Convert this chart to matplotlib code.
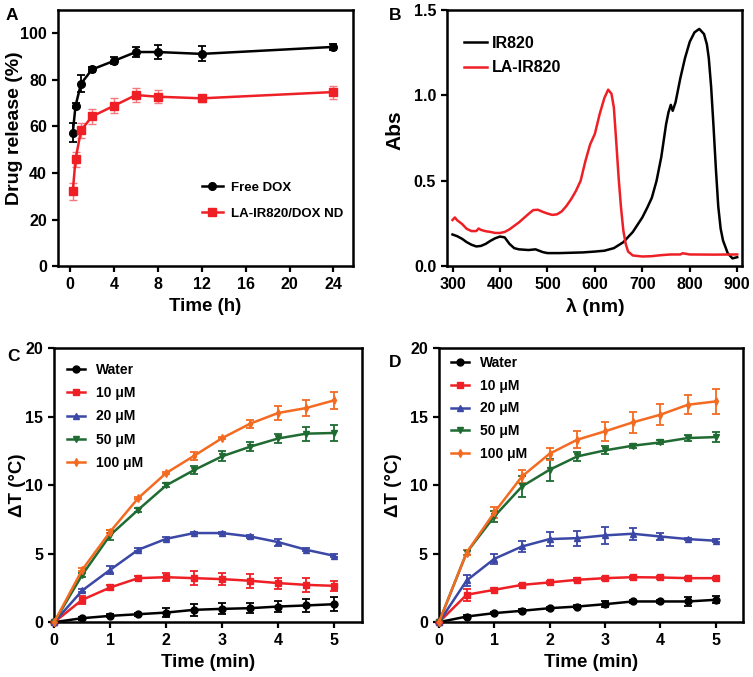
import matplotlib
matplotlib.use("Agg")
import matplotlib.pyplot as plt
from matplotlib.lines import Line2D

plt.rcParams['font.family'] = ['Liberation Sans', 'DejaVu Sans']
plt.rcParams['font.weight'] = 'bold'
plt.rcParams['axes.labelweight'] = 'bold'

# ---------------- Panel A data ----------------
time_h = [0.25, 0.5, 1, 2, 4, 6, 8, 12, 24]
free_dox = [57.4, 68.9, 78.4, 84.5, 88.2, 92.0, 92.0, 91.2, 94.2]
free_dox_err = [4.2, 1.0, 3.6, 1.0, 1.5, 2.2, 3.0, 3.2, 1.2]
nd_dox = [32.2, 45.9, 58.3, 64.3, 68.9, 73.5, 72.8, 72.1, 74.8]
nd_dox_err = [3.6, 3.2, 3.4, 3.2, 3.2, 3.0, 2.8, 1.6, 2.8]
xticks_a = [0, 4, 8, 12, 16, 20, 24]
yticks_a = [0, 20, 40, 60, 80, 100]

# ---------------- Panel B data ----------------
wl_ir820 = [300, 310, 320, 330, 340, 350, 360, 370, 380, 390, 400, 410, 420, 430, 440,
            460, 475, 490, 500, 525, 550, 575, 600, 620, 640, 660, 680, 700, 710, 720,
            730, 740, 750, 755, 760, 764, 770, 780, 790, 800, 810, 820, 830, 836, 840,
            845, 850, 855, 860, 865, 870, 880, 890, 900]
abs_ir820 = [0.185, 0.175, 0.160, 0.140, 0.125, 0.115, 0.118, 0.130, 0.148, 0.163, 0.173, 0.168,
             0.130, 0.105, 0.098, 0.094, 0.098, 0.082, 0.076, 0.076, 0.078, 0.080, 0.085, 0.090,
             0.105, 0.140, 0.200, 0.285, 0.340, 0.400, 0.500, 0.640, 0.830, 0.900, 0.945, 0.910,
             0.960, 1.100, 1.220, 1.315, 1.370, 1.390, 1.360, 1.300, 1.220, 1.050, 0.820, 0.570,
             0.350, 0.220, 0.150, 0.075, 0.045, 0.052]
wl_la = [300, 305, 310, 320, 330, 340, 350, 355, 360, 370, 380, 390, 400, 410, 420, 440, 460,
         470, 480, 490, 500, 510, 520, 530, 540, 550, 560, 570, 580, 590, 600, 610, 620, 628,
         635, 640, 645, 650, 655, 660, 665, 670, 680, 700, 720, 740, 760, 780, 785, 800, 850, 900]
abs_la = [0.270, 0.285, 0.268, 0.247, 0.218, 0.205, 0.205, 0.220, 0.212, 0.204, 0.200, 0.194,
          0.194, 0.200, 0.215, 0.256, 0.305, 0.328, 0.330, 0.318, 0.308, 0.300, 0.303, 0.320,
          0.352, 0.392, 0.440, 0.500, 0.615, 0.713, 0.775, 0.890, 0.985, 1.034, 1.010, 0.930,
          0.730, 0.520, 0.345, 0.208, 0.130, 0.085, 0.062, 0.056, 0.058, 0.064, 0.068, 0.068,
          0.075, 0.068, 0.067, 0.068]
xticks_b = [300, 400, 500, 600, 700, 800, 900]
yticks_b = [0.0, 0.5, 1.0, 1.5]

# ---------------- Panels C / D data ----------------
time_min = [0, 0.5, 1, 1.5, 2, 2.5, 3, 3.5, 4, 4.5, 5]
series_names = ['Water', '10 μM', '20 μM', '50 μM', '100 μM']

c_water = [0, 0.29, 0.46, 0.58, 0.70, 0.90, 0.97, 1.02, 1.14, 1.22, 1.31]
c_10 = [0, 1.63, 2.53, 3.21, 3.28, 3.21, 3.14, 3.02, 2.85, 2.72, 2.65]
c_20 = [0, 2.31, 3.82, 5.28, 6.08, 6.50, 6.50, 6.25, 5.84, 5.28, 4.84]
c_50 = [0, 3.45, 6.35, 8.20, 9.98, 11.10, 12.10, 12.80, 13.40, 13.75, 13.80]
c_100 = [0, 3.82, 6.60, 9.05, 10.88, 12.14, 13.43, 14.48, 15.26, 15.62, 16.18]
c_water_err = [0, 0.1, 0.1, 0.1, 0.35, 0.45, 0.4, 0.35, 0.4, 0.45, 0.5]
c_10_err = [0, 0.3, 0.2, 0.15, 0.3, 0.5, 0.45, 0.5, 0.4, 0.5, 0.35]
c_20_err = [0, 0.1, 0.3, 0.1, 0.1, 0.1, 0.1, 0.1, 0.25, 0.1, 0.1]
c_50_err = [0, 0.15, 0.35, 0.15, 0.15, 0.3, 0.35, 0.35, 0.35, 0.5, 0.6]
c_100_err = [0, 0.1, 0.1, 0.1, 0.1, 0.3, 0.1, 0.3, 0.5, 0.6, 0.6]

d_water = [0, 0.41, 0.66, 0.83, 1.02, 1.14, 1.31, 1.51, 1.51, 1.51, 1.63]
d_10 = [0, 2.00, 2.36, 2.72, 2.90, 3.09, 3.21, 3.28, 3.26, 3.21, 3.21]
d_20 = [0, 3.04, 4.62, 5.52, 6.06, 6.13, 6.33, 6.45, 6.25, 6.06, 5.94]
d_50 = [0, 5.08, 7.71, 9.90, 11.12, 12.09, 12.53, 12.87, 13.11, 13.43, 13.50]
d_100 = [0, 5.08, 8.00, 10.63, 12.29, 13.31, 13.92, 14.57, 15.13, 15.86, 16.10]
d_water_err = [0, 0.1, 0.1, 0.1, 0.1, 0.1, 0.2, 0.1, 0.1, 0.3, 0.25]
d_10_err = [0, 0.45, 0.1, 0.1, 0.1, 0.1, 0.1, 0.1, 0.1, 0.1, 0.1]
d_20_err = [0, 0.4, 0.35, 0.4, 0.5, 0.55, 0.6, 0.45, 0.25, 0.1, 0.1]
d_50_err = [0, 0.2, 0.4, 0.75, 0.8, 0.3, 0.3, 0.15, 0.15, 0.25, 0.35]
d_100_err = [0, 0.2, 0.4, 0.5, 0.45, 0.6, 0.7, 0.75, 0.75, 0.7, 0.9]
xticks_cd = [0, 1, 2, 3, 4, 5]
yticks_cd = [0, 5, 10, 15, 20]

colors_cd = ['#000000', '#EE2026', '#3B48A5', '#1F6B32', '#F36B21']
markers_cd = ['o', 's', '^', 'v', 'd']
RED = '#EE2026'

fig = plt.figure(figsize=(7.53, 6.77), dpi=100)

TICK_FS = 11.5
LABEL_FS = 13.5


def style_axes(ax):
    for s in ax.spines.values():
        s.set_linewidth(1.8)
    ax.tick_params(direction='out', width=1.6, length=4.5, labelsize=TICK_FS)
    for lab in ax.get_xticklabels() + ax.get_yticklabels():
        lab.set_fontweight('bold')


# ---------------- Panel A ----------------
axA = fig.add_axes([0.077, 0.607, 0.392, 0.378])
axA.errorbar(time_h, free_dox, yerr=free_dox_err, color='black', marker='o', ms=5.5,
             lw=1.8, capsize=3, elinewidth=1.3, capthick=1.3)
axA.errorbar(time_h, nd_dox, yerr=nd_dox_err, color=RED, marker='s', ms=5.5,
             lw=1.8, capsize=3, elinewidth=1.0, capthick=1.0, ecolor='#F27A7E')
axA.set_xlim(-1.1, 25.8)
axA.set_ylim(0, 110)
axA.set_xticks(xticks_a)
axA.set_yticks(yticks_a)
axA.set_xlabel('Time (h)', fontsize=LABEL_FS)
axA.set_ylabel('Drug release (%)', fontsize=14)
axA.yaxis.set_label_coords(-0.118, 0.54)
style_axes(axA)
hA = [Line2D([], [], color='black', marker='o', ms=5.5, lw=1.8),
      Line2D([], [], color=RED, marker='s', ms=5.5, lw=1.8)]
axA.legend(hA, ['Free DOX', 'LA-IR820/DOX ND'], loc='upper left',
           bbox_to_anchor=(0.487, 0.33), frameon=False,
           prop={'weight': 'bold', 'size': 9.5}, handlelength=1.6, handletextpad=0.6,
           labelspacing=1.05, borderaxespad=0, borderpad=0)
fig.text(0.008, 0.977, 'A', fontsize=12.5, fontweight='bold', va='center')

# ---------------- Panel B ----------------
axB = fig.add_axes([0.594, 0.607, 0.392, 0.378])
axB.plot(wl_ir820, abs_ir820, color='black', lw=1.8)
axB.plot(wl_la, abs_la, color=RED, lw=1.8)
axB.set_xlim(289, 911)
axB.set_ylim(0, 1.5)
axB.set_xticks(xticks_b)
axB.set_yticks(yticks_b)
axB.set_yticklabels(['0.0', '0.5', '1.0', '1.5'])
axB.set_xlabel('λ (nm)', fontsize=14)
axB.set_ylabel('Abs', fontsize=15)
axB.yaxis.set_label_coords(-0.145, 0.53)
style_axes(axB)
hB = [Line2D([], [], color='black', lw=1.8), Line2D([], [], color=RED, lw=1.8)]
axB.legend(hB, ['IR820', 'LA-IR820'], loc='upper left', bbox_to_anchor=(0.055, 0.9),
           frameon=False, prop={'weight': 'bold', 'size': 11.5}, handlelength=1.5,
           handletextpad=0.3, labelspacing=0.6, borderaxespad=0, borderpad=0)
fig.text(0.517, 0.977, 'B', fontsize=12.5, fontweight='bold', va='center')


# ---------------- Panels C & D ----------------
def draw_heat(ax, ys, errs, leg_top, label_x, spacing):
    handles = []
    for name, y, e, c, m in zip(series_names, ys, errs, colors_cd, markers_cd):
        ms = 5 if m != 'd' else 4
        ax.errorbar(time_min, y, yerr=e, color=c, marker=m, ms=ms,
                    lw=1.8, capsize=3, elinewidth=1.3, capthick=1.3,
                    clip_on=False, zorder=3)
        handles.append(Line2D([], [], color=c, marker=m, ms=ms, lw=1.8))
    ax.set_xlim(0, 5.5)
    ax.set_ylim(0, 20)
    ax.set_xticks(xticks_cd)
    ax.set_yticks(yticks_cd)
    ax.set_xlabel('Time (min)', fontsize=LABEL_FS)
    ax.set_ylabel('ΔT (°C)', fontsize=LABEL_FS)
    ax.yaxis.set_label_coords(label_x, 0.5)
    style_axes(ax)
    ax.legend(handles, series_names, loc='upper left', bbox_to_anchor=(0.04, leg_top),
              frameon=False, prop={'weight': 'bold', 'size': 10}, handlelength=1.3,
              handletextpad=0.8, labelspacing=spacing, borderaxespad=0, borderpad=0)


axC = fig.add_axes([0.072, 0.081, 0.409, 0.405])
draw_heat(axC, [c_water, c_10, c_20, c_50, c_100],
          [c_water_err, c_10_err, c_20_err, c_50_err, c_100_err], 0.945, -0.09, 0.66)
fig.text(0.010, 0.474, 'C', fontsize=12.5, fontweight='bold', va='center')

axD = fig.add_axes([0.583, 0.081, 0.404, 0.405])
draw_heat(axD, [d_water, d_10, d_20, d_50, d_100],
          [d_water_err, d_10_err, d_20_err, d_50_err, d_100_err], 0.97, -0.122, 0.62)
fig.text(0.517, 0.465, 'D', fontsize=12.5, fontweight='bold', va='center')

fig.savefig('out.png', dpi=100)
